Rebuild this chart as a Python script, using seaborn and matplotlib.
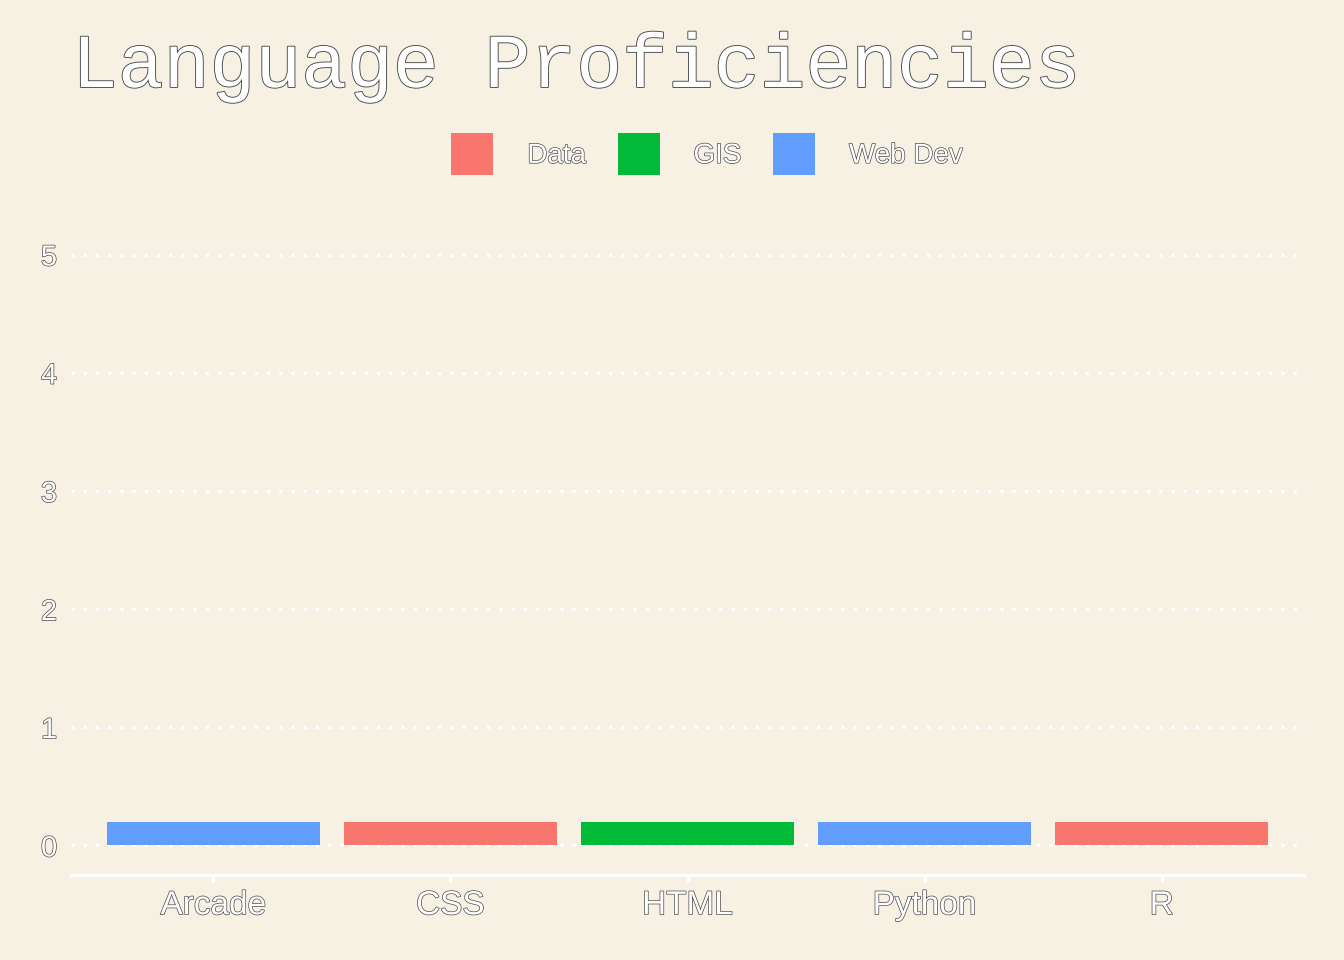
import matplotlib
matplotlib.use("Agg")
import matplotlib.pyplot as plt
import matplotlib.patheffects as pe
import seaborn as sns
import pandas as pd

languages = ["Arcade", "CSS", "HTML", "Python", "R"]
groups = ["Web Dev", "Data", "GIS", "Web Dev", "Data"]
proficiency = [0.2, 0.2, 0.2, 0.2, 0.2]
hue_order = ["Data", "GIS", "Web Dev"]
colors = ["#F8766D", "#00BA38", "#619CFF"]
yticks = [0, 1, 2, 3, 4, 5]
title = "Language Proficiencies"

BG = "#F7F1E4"
sns.set_theme(style="white")
plt.rcParams["font.family"] = ["Liberation Sans", "DejaVu Sans"]

df = pd.DataFrame({"language": languages, "group": groups, "value": proficiency})

fig = plt.figure(figsize=(13.44, 9.6), dpi=100, facecolor=BG)
ax = fig.add_axes([71/1344, 85/960, (1304-71)/1344, (875-225)/960])
ax.set_facecolor(BG)

sns.barplot(data=df, x="language", y="value", hue="group", hue_order=hue_order,
            palette=dict(zip(hue_order, colors)), dodge=False, width=0.9,
            order=languages, ax=ax, saturation=1, zorder=3, linewidth=0,
            edgecolor="none")

outline = [pe.withStroke(linewidth=1.0, foreground="#4a4a4a")]

ax.set_xlim(-0.6, 4.6)
ax.set_ylim(-0.25, 5.25)
ax.set_yticks(yticks)
ax.set_yticklabels([str(v) for v in yticks])
ax.set_xlabel("")
ax.set_ylabel("")
for s in ["top", "right", "left"]:
    ax.spines[s].set_visible(False)
ax.spines["bottom"].set_color("white")
ax.spines["bottom"].set_linewidth(2.2)
ax.tick_params(axis="x", bottom=True, colors="white", length=5, width=2.2, pad=6, labelsize=24)
ax.tick_params(axis="y", left=False, length=0, pad=10, labelsize=21)
for lab in ax.get_xticklabels() + ax.get_yticklabels():
    lab.set_color("white")
    lab.set_path_effects(outline)
ax.grid(axis="y", color="white", linestyle=(0, (1, 3)), linewidth=2.2, zorder=0)
ax.set_axisbelow(True)

handles, labels = ax.get_legend_handles_labels()
ax.legend_.remove()
for h in handles:
    h.set_edgecolor("none")
    h.set_linewidth(0)
leg = fig.legend(handles, labels, loc="center", bbox_to_anchor=(707/1344, 1-154/960),
                 ncol=3, frameon=False, fontsize=20, handlelength=1.51, handleheight=1.92,
                 handletextpad=1.22, columnspacing=1.15)
for t in leg.get_texts():
    t.set_color("white")
    t.set_path_effects(outline)

fig.text(72/1344, 1-87/960, title, ha="left", va="baseline", fontsize=55,
         family=["Liberation Mono", "DejaVu Sans Mono"], color="white",
         path_effects=[pe.withStroke(linewidth=1.3, foreground="#4a4a4a")])

fig.savefig("out.png", dpi=100, facecolor=BG)
